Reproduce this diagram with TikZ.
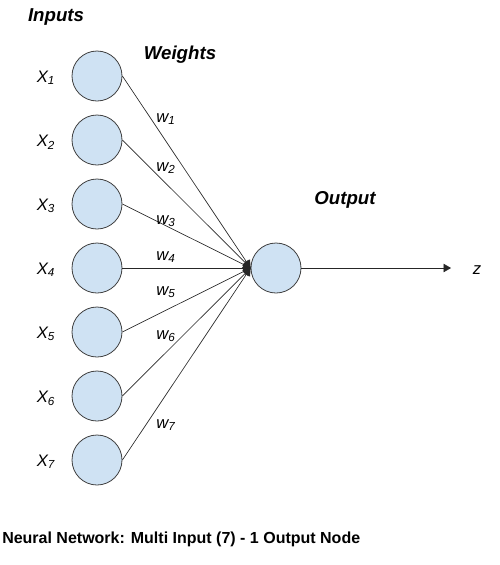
\documentclass[tikz,border=0pt]{standalone}
\usepackage{fontspec}
\setmainfont{Liberation Sans}
\usetikzlibrary{arrows}
\definecolor{myblue}{RGB}{207, 226, 243}
\definecolor{myedge}{RGB}{64, 64, 64}
\tikzstyle{neuron} = [circle, draw=myedge, fill=myblue, inner sep=0,
    minimum size=37.5pt, line width=0.6pt]
\tikzstyle{weight} = [-triangle 60, line width=0.5pt, draw=black!85]
\tikzstyle{title} = [font=\fontsize{14}{16}\selectfont\bfseries\itshape, inner sep=0]
\tikzstyle{label} = [font=\fontsize{12.5}{14}\selectfont\itshape, inner sep=0]

\begin{document}
\begin{tikzpicture}[x=0.75pt, y=-0.75pt]
\useasboundingbox (0,0) rectangle (500,565);

%%% headings
\node[title] (hin) at (56,17) {Inputs};
\node[title] (hw) at (180,55) {Weights};
\node[title] (hout) at (345,200) {Output};

%%% input layer
\node[neuron] (x1) at (97,76) {};
\node[neuron] (x2) at (97,140) {};
\node[neuron] (x3) at (97,204) {};
\node[neuron] (x4) at (97,268) {};
\node[neuron] (x5) at (97,332) {};
\node[neuron] (x6) at (97,396) {};
\node[neuron] (x7) at (97,460) {};

\node[label] (lx1) at (46,78) {X\textsubscript{1}};
\node[label] (lx2) at (46,142) {X\textsubscript{2}};
\node[label] (lx3) at (46,206) {X\textsubscript{3}};
\node[label] (lx4) at (46,270) {X\textsubscript{4}};
\node[label] (lx5) at (46,334) {X\textsubscript{5}};
\node[label] (lx6) at (46,398) {X\textsubscript{6}};
\node[label] (lx7) at (46,462) {X\textsubscript{7}};

%%% output node
\node[neuron] (out) at (276,268) {};
\node[label] (z) at (477,270) {z};
\coordinate (zend) at (451,268);

%%% weighted connections
\draw[weight] (x1.east) -- (out.west);
\draw[weight] (x2.east) -- (out.west);
\draw[weight] (x3.east) -- (out.west);
\draw[weight] (x4.east) -- (out.west);
\draw[weight] (x5.east) -- (out.west);
\draw[weight] (x6.east) -- (out.west);
\draw[weight] (x7.east) -- (out.west);
\draw[weight] (out.east) -- (zend);

\node[label] (w1) at (166,119) {w\textsubscript{1}};
\node[label] (w2) at (166,168) {w\textsubscript{2}};
\node[label] (w3) at (166,221) {w\textsubscript{3}};
\node[label] (w4) at (166,257) {w\textsubscript{4}};
\node[label] (w5) at (166,292) {w\textsubscript{5}};
\node[label] (w6) at (166,336) {w\textsubscript{6}};
\node[label] (w7) at (166,425) {w\textsubscript{7}};

%%% caption
\node[anchor=west, inner sep=0, font=\fontsize{12}{14}\selectfont\bfseries] (cap) at (2,539)
    {Neural Network: Multi Input (7) - 1 Output Node};

\end{tikzpicture}
\end{document}
